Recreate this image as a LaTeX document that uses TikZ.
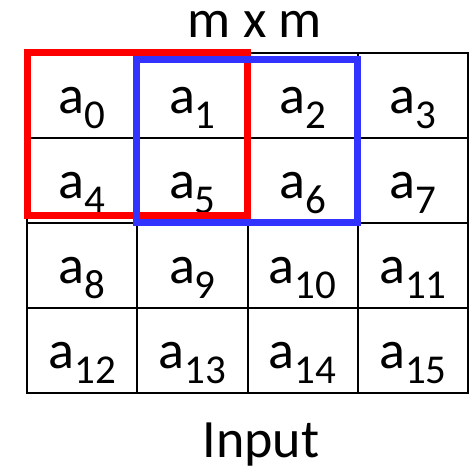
\documentclass[tikz,border=0pt]{standalone}
\usepackage{fontspec}
\setmainfont{Carlito}
\usetikzlibrary{positioning}

\newcommand{\elem}[1]{a\raisebox{-15pt}{\fontsize{41}{44}\selectfont #1}}

\begin{document}
\begin{tikzpicture}[
x=1pt,y=1pt,
node distance=0pt,
cell/.style={draw=black,line width=2pt,minimum width=110.25pt,minimum height=85pt,
  inner sep=0pt,outer sep=0pt,text height=40pt,text depth=4pt,font=\fontsize{54}{60}\selectfont},
caption/.style={anchor=base,inner sep=0pt,font=\fontsize{54}{60}\selectfont},
redwin/.style={draw=red,line width=7pt},
bluewin/.style={draw={rgb,255:red,51;green,51;blue,255},line width=7pt}
]
\useasboundingbox (0,0) rectangle (470,-465);

% input grid
\node[cell] (c0) at (82.125,-95.5) {\elem{0}};
\node[cell,right=of c0] (c1) {\elem{1}};
\node[cell,right=of c1] (c2) {\elem{2}};
\node[cell,right=of c2] (c3) {\elem{3}};
\node[cell,below=of c0] (c4) {\elem{4}};
\node[cell,right=of c4] (c5) {\elem{5}};
\node[cell,right=of c5] (c6) {\elem{6}};
\node[cell,right=of c6] (c7) {\elem{7}};
\node[cell,below=of c4] (c8) {\elem{8}};
\node[cell,right=of c8] (c9) {\elem{9}};
\node[cell,right=of c9] (c10) {\elem{10}};
\node[cell,right=of c10] (c11) {\elem{11}};
\node[cell,below=of c8] (c12) {\elem{12}};
\node[cell,right=of c12] (c13) {\elem{13}};
\node[cell,right=of c13] (c14) {\elem{14}};
\node[cell,right=of c14] (c15) {\elem{15}};

% windows
\draw[redwin] ([shift={(0.5,0.5)}]c0.north west) rectangle ([shift={(0,7.5)}]c5.south east);
\draw[bluewin] ([shift={(-0.75,-6.5)}]c1.north west) rectangle ([shift={(0,1)}]c6.south east);

% captions
\node[caption] (size) at (255,-38) {m x m};
\node[caption] (input) at (261,-457) {Input};

\end{tikzpicture}
\end{document}
